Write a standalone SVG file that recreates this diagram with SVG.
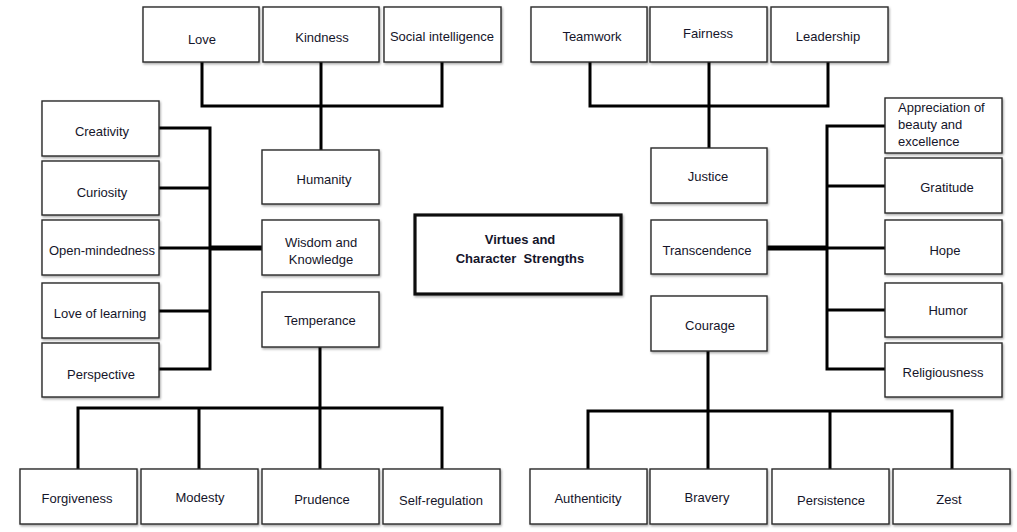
<svg xmlns="http://www.w3.org/2000/svg" width="1017" height="532" viewBox="0 0 1017 532">
<defs>
<filter id="sh" x="-5%" y="-5%" width="112%" height="120%"><feDropShadow dx="1" dy="1.5" stdDeviation="0.8" flood-color="#000" flood-opacity="0.35"/></filter>
</defs>
<style>
.b{fill:#fff;stroke:#2a2a2a;stroke-width:1.4;filter:url(#sh)}
.c{fill:#fff;stroke:#111;stroke-width:3.2;filter:url(#sh)}
text{font-family:"Liberation Sans",Arial,sans-serif;font-size:13px;fill:#15152a;text-anchor:middle}
.l{text-anchor:start}
.t{font-weight:bold}
.w{fill:none;stroke:#000;stroke-width:3;stroke-linecap:square}
.k{fill:none;stroke:#000;stroke-width:5}
</style>
<rect width="1017" height="532" fill="#fff"/>
<g id="connectors">
<path class="w" d="M202,62V106H442V62M321,62V150"/>
<path class="w" d="M590,62V106H828V62M709,62V148"/>
<path class="w" d="M159,128H210V369H159M159,188H210M159,248H210M159,311H210"/>
<path class="k" d="M210,248H262"/>
<path class="w" d="M885,126H827V369H885M885,186H827M885,248H827M885,310H827"/>
<path class="k" d="M767,248H827"/>
<path class="w" d="M320,347V408M78,469V408H442V469M199,408V469M320,408V469"/>
<path class="w" d="M708,351V411M588,469V411H952V469M708,411V469M830,411V469"/>
</g>
<g id="love"><rect class="b" x="143" y="7" width="116" height="55"/><text x="202" y="44">Love</text></g>
<g id="kindness"><rect class="b" x="263" y="7" width="116" height="55"/><text x="322" y="42">Kindness</text></g>
<g id="social"><rect class="b" x="384" y="7" width="117" height="55"/><text x="442" y="41">Social intelligence</text></g>
<g id="teamwork"><rect class="b" x="531" y="7" width="116" height="55"/><text x="592" y="41">Teamwork</text></g>
<g id="fairness"><rect class="b" x="650" y="7" width="117" height="55"/><text x="708" y="38">Fairness</text></g>
<g id="leadership"><rect class="b" x="771" y="7" width="117" height="55"/><text x="828" y="41">Leadership</text></g>
<g id="creativity"><rect class="b" x="42" y="101" width="117" height="55"/><text x="102" y="136">Creativity</text></g>
<g id="curiosity"><rect class="b" x="42" y="161" width="117" height="54"/><text x="102" y="197">Curiosity</text></g>
<g id="openmind"><rect class="b" x="42" y="220" width="117" height="55"/><text x="102" y="255">Open-mindedness</text></g>
<g id="loveoflearning"><rect class="b" x="42" y="283" width="117" height="55"/><text x="100" y="318">Love of learning</text></g>
<g id="perspective"><rect class="b" x="42" y="343" width="117" height="54"/><text x="101" y="379">Perspective</text></g>
<g id="humanity"><rect class="b" x="262" y="150" width="117" height="54"/><text x="324" y="184">Humanity</text></g>
<g id="wisdom"><rect class="b" x="262" y="220" width="117" height="55"/><text x="321" y="247">Wisdom and</text><text x="321" y="264">Knowledge</text></g>
<g id="temperance"><rect class="b" x="262" y="292" width="117" height="55"/><text x="320" y="325">Temperance</text></g>
<g id="center"><rect class="c" x="415" y="215" width="206" height="79"/><text class="t" x="520" y="244">Virtues and</text><text class="t" x="520" y="263" xml:space="preserve">Character  Strengths</text></g>
<g id="justice"><rect class="b" x="651" y="148" width="116" height="55"/><text x="708" y="181">Justice</text></g>
<g id="transcendence"><rect class="b" x="651" y="220" width="116" height="54"/><text x="707" y="255">Transcendence</text></g>
<g id="courage"><rect class="b" x="651" y="296" width="116" height="55"/><text x="710" y="330">Courage</text></g>
<g id="appreciation"><rect class="b" x="885" y="98" width="117" height="55"/><text class="l" x="898" y="112">Appreciation of</text><text class="l" x="898" y="129">beauty and</text><text class="l" x="898" y="146">excellence</text></g>
<g id="gratitude"><rect class="b" x="885" y="158" width="117" height="55"/><text x="947" y="192">Gratitude</text></g>
<g id="hope"><rect class="b" x="885" y="220" width="117" height="54"/><text x="945" y="255">Hope</text></g>
<g id="humor"><rect class="b" x="885" y="283" width="117" height="54"/><text x="948" y="315">Humor</text></g>
<g id="religiousness"><rect class="b" x="885" y="343" width="117" height="54"/><text x="943" y="377">Religiousness</text></g>
<g id="forgiveness"><rect class="b" x="20" y="469" width="117" height="55"/><text x="77" y="503">Forgiveness</text></g>
<g id="modesty"><rect class="b" x="141" y="469" width="117" height="55"/><text x="200" y="502">Modesty</text></g>
<g id="prudence"><rect class="b" x="262" y="469" width="117" height="55"/><text x="322" y="504">Prudence</text></g>
<g id="selfregulation"><rect class="b" x="383" y="469" width="117" height="55"/><text x="441" y="505">Self-regulation</text></g>
<g id="authenticity"><rect class="b" x="530" y="469" width="117" height="55"/><text x="588" y="503">Authenticity</text></g>
<g id="bravery"><rect class="b" x="650" y="469" width="117" height="55"/><text x="707" y="502">Bravery</text></g>
<g id="persistence"><rect class="b" x="772" y="469" width="117" height="55"/><text x="831" y="505">Persistence</text></g>
<g id="zest"><rect class="b" x="893" y="469" width="117" height="55"/><text x="949" y="504">Zest</text></g>
</svg>
